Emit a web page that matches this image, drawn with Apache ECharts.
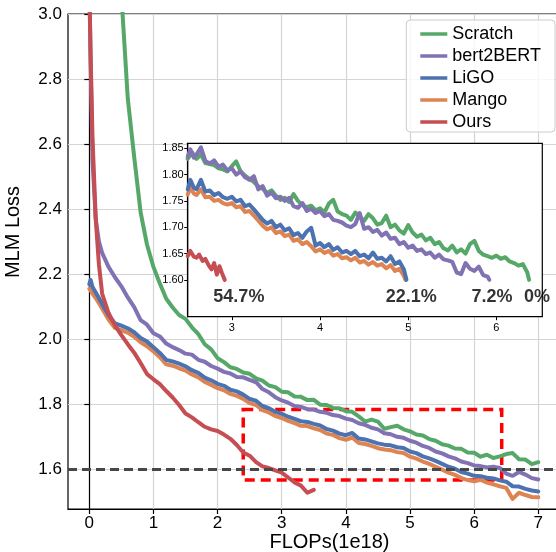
<!DOCTYPE html>
<html>
<head>
<meta charset="utf-8">
<script src="https://cdn.jsdelivr.net/npm/echarts@6.0.0/dist/echarts.min.js"></script>
<style>
  html, body { margin: 0; padding: 0; background: #ffffff; }
  #chart { width: 556px; height: 552px; }
</style>
</head>
<body>
<div id="chart"></div>
<script>
// ---- Main panel: MLM loss vs. training FLOPs (1e18) ----
const flops = [
  0, 0.02, 0.05, 0.1, 0.15, 0.2,
  0.3, 0.4, 0.5, 0.6, 0.7, 0.8, 0.9,
  1.0, 1.1, 1.2, 1.3, 1.4, 1.5, 1.6, 1.7, 1.8, 1.9,
  2.0, 2.1, 2.2, 2.3, 2.4, 2.5, 2.6, 2.7, 2.8, 2.9,
  3.0, 3.1, 3.2, 3.3, 3.4, 3.5, 3.6, 3.7, 3.8, 3.9,
  4.0, 4.1, 4.2, 4.3, 4.4, 4.5, 4.6, 4.7, 4.8, 4.9,
  5.0, 5.1, 5.2, 5.3, 5.4, 5.5, 5.6, 5.7, 5.8, 5.9,
  6.0, 6.1, 6.2, 6.3, 6.4, 6.5, 6.6, 6.7, 6.8, 6.9,
  7.0
];

const lossScratch = [
  null, null, null, null, null, null,
  null, null, 3.06, 2.74, 2.56, 2.39, 2.29,
  2.222, 2.171, 2.124, 2.097, 2.074, 2.062, 2.036, 2.015, 1.984, 1.968,
  1.941, 1.929, 1.913, 1.908, 1.897, 1.893, 1.879, 1.872, 1.857, 1.852,
  1.838, 1.836, 1.823, 1.822, 1.812, 1.813, 1.798, 1.797, 1.788, 1.787,
  1.778, 1.776, 1.762, 1.746, 1.752, 1.746, 1.724, 1.729, 1.733, 1.722,
  1.716, 1.706, 1.703, 1.692, 1.687, 1.676, 1.672, 1.663, 1.662, 1.651,
  1.650, 1.638, 1.644, 1.634, 1.639, 1.646, 1.649, 1.630, 1.629, 1.615,
  1.621
];

const lossBert2BERT = [
  3.10, 2.86, 2.55, 2.37, 2.30, 2.265,
  2.222, 2.190, 2.162, 2.128, 2.098, 2.058, 2.044,
  2.018, 2.008, 1.986, 1.975, 1.966, 1.955, 1.952, 1.936, 1.930, 1.917,
  1.909, 1.899, 1.894, 1.883, 1.882, 1.874, 1.867, 1.846, 1.836, 1.821,
  1.811, 1.804, 1.794, 1.791, 1.784, 1.783, 1.776, 1.773, 1.766, 1.763,
  1.755, 1.751, 1.741, 1.736, 1.727, 1.722, 1.710, 1.707, 1.699, 1.696,
  1.687, 1.681, 1.671, 1.665, 1.654, 1.648, 1.639, 1.633, 1.623, 1.618,
  1.611, 1.609, 1.605, 1.607, 1.603, 1.586, 1.579, 1.591, 1.583, 1.572,
  1.568
];

const lossLiGO = [
  2.168, 2.182, 2.160, 2.143, 2.126, 2.108,
  2.074, 2.048, 2.041, 2.033, 2.021, 2.003, 1.992,
  1.975, 1.957, 1.936, 1.931, 1.924, 1.916, 1.904, 1.896, 1.881, 1.873,
  1.862, 1.856, 1.844, 1.839, 1.829, 1.816, 1.810, 1.794, 1.787, 1.776,
  1.770, 1.761, 1.754, 1.747, 1.745, 1.739, 1.734, 1.723, 1.718, 1.709,
  1.704, 1.711, 1.694, 1.691, 1.685, 1.679, 1.675, 1.673, 1.667, 1.665,
  1.654, 1.649, 1.639, 1.633, 1.625, 1.616, 1.607, 1.601, 1.591, 1.586,
  1.579, 1.578, 1.573, 1.571, 1.565, 1.561, 1.547, 1.546, 1.539, 1.534,
  1.531
];

const lossMango = [
  2.155, 2.150, 2.140, 2.126, 2.110, 2.094,
  2.060, 2.034, 2.027, 2.020, 2.007, 1.990, 1.978,
  1.962, 1.944, 1.922, 1.918, 1.910, 1.903, 1.891, 1.882, 1.868, 1.859,
  1.849, 1.842, 1.831, 1.825, 1.816, 1.803, 1.797, 1.781, 1.774, 1.763,
  1.757, 1.748, 1.741, 1.733, 1.732, 1.725, 1.720, 1.709, 1.705, 1.695,
  1.690, 1.697, 1.680, 1.677, 1.671, 1.664, 1.660, 1.658, 1.652, 1.649,
  1.638, 1.632, 1.623, 1.616, 1.607, 1.598, 1.589, 1.582, 1.572, 1.566,
  1.562, 1.567, 1.558, 1.553, 1.547, 1.542, 1.508, 1.527, 1.520, 1.514,
  1.513
];

const lossOurs = [
  3.10, 2.88, 2.62, 2.37, 2.23, 2.14,
  2.080, 2.042, 2.012, 1.984, 1.958, 1.926, 1.892,
  1.876, 1.861, 1.840, 1.820, 1.797, 1.771, 1.759, 1.744, 1.730, 1.722,
  1.717, 1.706, 1.693, 1.674, 1.651, 1.641, 1.621, 1.608, 1.603, 1.596,
  1.589, 1.574, 1.559, 1.549, 1.527, 1.536, null, null, null, null,
  null, null, null, null, null, null, null, null, null, null,
  null, null, null, null, null, null, null, null, null, null,
  null, null, null, null, null, null, null, null, null, null,
  null
];

// ---- Inset: each run until it first reaches the target loss ----
const insetScratch = [
  [2.5,1.830],[2.55,1.842],[2.6,1.830],[2.65,1.838],[2.7,1.822],[2.75,1.820],[2.8,1.818],[2.85,1.812],
  [2.9,1.810],[2.95,1.806],[3.0,1.816],[3.05,1.825],[3.1,1.806],[3.15,1.798],[3.2,1.792],[3.25,1.786],
  [3.3,1.778],[3.35,1.773],[3.4,1.765],[3.45,1.770],[3.5,1.760],[3.55,1.752],[3.6,1.756],[3.65,1.748],
  [3.7,1.763],[3.75,1.750],[3.8,1.742],[3.85,1.738],[3.9,1.741],[3.95,1.732],[4.0,1.736],[4.05,1.728],
  [4.1,1.745],[4.15,1.752],[4.2,1.730],[4.25,1.725],[4.3,1.722],[4.35,1.714],[4.4,1.728],[4.45,1.720],
  [4.5,1.712],[4.55,1.725],[4.6,1.717],[4.65,1.705],[4.7,1.708],[4.75,1.722],[4.8,1.700],[4.85,1.705],
  [4.9,1.694],[4.95,1.688],[5.0,1.704],[5.05,1.690],[5.1,1.682],[5.15,1.686],[5.2,1.675],[5.25,1.680],
  [5.3,1.668],[5.35,1.672],[5.4,1.660],[5.45,1.656],[5.5,1.665],[5.55,1.652],[5.6,1.658],[5.65,1.650],
  [5.7,1.668],[5.75,1.674],[5.8,1.655],[5.85,1.648],[5.9,1.645],[5.95,1.642],[6.0,1.646],[6.05,1.640],
  [6.1,1.643],[6.15,1.635],[6.2,1.632],[6.25,1.627],[6.3,1.630],[6.35,1.614],[6.37,1.600]
];

const insetBert2BERT = [
  [2.5,1.834],[2.53,1.848],[2.57,1.832],[2.6,1.838],[2.65,1.852],[2.7,1.826],[2.75,1.821],[2.8,1.827],
  [2.85,1.815],[2.9,1.819],[2.95,1.808],[3.0,1.812],[3.05,1.800],[3.1,1.806],[3.15,1.795],[3.2,1.790],
  [3.25,1.797],[3.3,1.772],[3.35,1.778],[3.4,1.760],[3.45,1.766],[3.5,1.755],[3.55,1.758],[3.6,1.750],
  [3.65,1.756],[3.7,1.740],[3.75,1.737],[3.8,1.746],[3.85,1.731],[3.9,1.735],[3.95,1.727],[4.0,1.731],
  [4.05,1.721],[4.1,1.725],[4.15,1.714],[4.2,1.712],[4.25,1.709],[4.3,1.703],[4.35,1.700],[4.4,1.706],
  [4.45,1.727],[4.5,1.697],[4.55,1.700],[4.6,1.691],[4.65,1.695],[4.7,1.684],[4.75,1.690],[4.8,1.678],
  [4.85,1.680],[4.9,1.668],[4.95,1.672],[5.0,1.661],[5.05,1.665],[5.1,1.655],[5.15,1.658],[5.2,1.649],
  [5.25,1.652],[5.3,1.642],[5.35,1.648],[5.4,1.639],[5.45,1.637],[5.5,1.634],[5.55,1.614],[5.6,1.611],
  [5.65,1.632],[5.7,1.621],[5.75,1.617],[5.8,1.625],[5.85,1.609],[5.9,1.606],[5.92,1.600]
];

const insetLiGO = [
  [2.5,1.772],[2.53,1.790],[2.57,1.775],[2.6,1.772],[2.65,1.790],[2.7,1.768],[2.75,1.770],[2.8,1.761],
  [2.85,1.765],[2.9,1.757],[2.95,1.754],[3.0,1.758],[3.05,1.749],[3.1,1.752],[3.15,1.740],[3.2,1.743],
  [3.25,1.734],[3.3,1.724],[3.35,1.714],[3.4,1.707],[3.45,1.712],[3.5,1.700],[3.55,1.705],[3.6,1.694],
  [3.65,1.698],[3.7,1.685],[3.75,1.689],[3.8,1.680],[3.85,1.692],[3.9,1.699],[3.95,1.665],[4.0,1.670],
  [4.05,1.662],[4.1,1.668],[4.15,1.657],[4.2,1.662],[4.25,1.652],[4.3,1.655],[4.35,1.649],[4.4,1.655],
  [4.45,1.645],[4.5,1.648],[4.55,1.641],[4.6,1.652],[4.65,1.640],[4.7,1.642],[4.75,1.635],[4.8,1.645],
  [4.85,1.630],[4.9,1.635],[4.95,1.620],[4.98,1.600]
];

const insetMango = [
  [2.5,1.762],[2.53,1.775],[2.57,1.764],[2.6,1.761],[2.65,1.772],[2.7,1.757],[2.75,1.758],[2.8,1.750],
  [2.85,1.752],[2.9,1.746],[2.95,1.743],[3.0,1.746],[3.05,1.738],[3.1,1.740],[3.15,1.729],[3.2,1.731],
  [3.25,1.722],[3.3,1.713],[3.35,1.703],[3.4,1.696],[3.45,1.700],[3.5,1.689],[3.55,1.692],[3.6,1.683],
  [3.65,1.686],[3.7,1.674],[3.75,1.677],[3.8,1.668],[3.85,1.672],[3.9,1.664],[3.95,1.654],[4.0,1.658],
  [4.05,1.651],[4.1,1.655],[4.15,1.646],[4.2,1.649],[4.25,1.641],[4.3,1.643],[4.35,1.637],[4.4,1.642],
  [4.45,1.633],[4.5,1.636],[4.55,1.629],[4.6,1.634],[4.65,1.627],[4.7,1.630],[4.75,1.622],[4.8,1.628],
  [4.85,1.617],[4.9,1.621],[4.95,1.608],[4.97,1.600]
];

const insetOurs = [
  [2.5,1.645],[2.53,1.655],[2.57,1.644],[2.6,1.642],[2.63,1.648],[2.67,1.636],[2.7,1.640],
  [2.74,1.627],[2.77,1.620],[2.8,1.632],[2.83,1.610],[2.86,1.626],[2.89,1.612],[2.92,1.600]
];

// Speed-up annotations written under the target-loss line of the inset
const speedupText = ['54.7%', '22.1%', '7.2%', '0%'];
const speedupAt = [3.08, 5.035, 5.95, 6.46];
const speedupLoss = 1.567;

// Tick labels
const xTicks = [0, 1, 2, 3, 4, 5, 6, 7];
const yTicks = [1.6, 1.8, 2.0, 2.2, 2.4, 2.6, 2.8, 3.0];
const insetXTicks = [3, 4, 5, 6];
const insetYTicks = [1.60, 1.65, 1.70, 1.75, 1.80, 1.85];

const targetLoss = 1.6;
const zoomBoxFlops = [2.40, 6.43];
const zoomBoxLoss = [1.566, 1.783];

const seriesNames = ['Scratch', 'bert2BERT', 'LiGO', 'Mango', 'Ours'];
const colors = {
  'Scratch': '#55A868',
  'bert2BERT': '#8172B3',
  'LiGO': '#4C72B0',
  'Mango': '#DD8452',
  'Ours': '#C44E52'
};

const FONT = "'Liberation Sans', Arial, Helvetica, sans-serif";

const pair = ys => flops.map((x, i) => [x, ys[i]]).filter(p => p[1] !== null);

function lineSeries(name, data, gridIdx, extra) {
  return Object.assign({
    name: name,
    type: 'line',
    xAxisIndex: gridIdx,
    yAxisIndex: gridIdx,
    data: data,
    color: colors[name],
    showSymbol: false,
    symbol: 'none',
    clip: true,
    lineStyle: { color: colors[name], width: 4, join: 'round', cap: 'round' },
    z: gridIdx === 0 ? 2 : 12,
    silent: true,
    animation: false
  }, extra || {});
}

// draw order: green, purple, orange, blue, red
const mainSeries = [
  lineSeries('Scratch', pair(lossScratch), 0),
  lineSeries('bert2BERT', pair(lossBert2BERT), 0),
  lineSeries('Mango', pair(lossMango), 0),
  lineSeries('LiGO', pair(lossLiGO), 0),
  lineSeries('Ours', pair(lossOurs), 0, {
    markLine: {
      silent: true,
      symbol: ['none', 'none'],
      label: { show: false },
      lineStyle: { color: '#474747', width: 3, type: [9, 5], opacity: 1 },
      data: [{ yAxis: targetLoss }],
      animation: false
    },
    markArea: {
      silent: true,
      label: { show: false },
      itemStyle: {
        color: 'rgba(0,0,0,0)',
        borderColor: '#ff0000',
        borderWidth: 3.5,
        borderType: [10, 6]
      },
      data: [[
        { coord: [zoomBoxFlops[0], zoomBoxLoss[1]] },
        { coord: [zoomBoxFlops[1], zoomBoxLoss[0]] }
      ]],
      animation: false
    }
  })
];

const insetSeries = [
  lineSeries('Scratch', insetScratch, 1, {
    markLine: {
      silent: true,
      symbol: ['none', 'none'],
      label: { show: false },
      lineStyle: { color: '#333333', width: 1.3, type: [4, 3] },
      data: [{ yAxis: targetLoss }],
      animation: false
    }
  }),
  lineSeries('bert2BERT', insetBert2BERT, 1),
  lineSeries('Mango', insetMango, 1),
  lineSeries('LiGO', insetLiGO, 1),
  lineSeries('Ours', insetOurs, 1),
  {
    type: 'scatter',
    xAxisIndex: 1,
    yAxisIndex: 1,
    symbolSize: 0,
    silent: true,
    z: 13,
    data: speedupAt.map(x => [x, speedupLoss]),
    label: {
      show: true,
      position: 'inside',
      formatter: p => speedupText[p.dataIndex],
      fontFamily: FONT,
      fontSize: 18,
      fontWeight: 'bold',
      color: '#000'
    },
    animation: false
  }
];

const axisBlack = { show: true, lineStyle: { color: '#000', width: 1.2 } };

const option = {
  backgroundColor: '#ffffff',
  animation: false,
  textStyle: { fontFamily: FONT },
  grid: [
    { left: 68, top: 14, width: 523, height: 495, show: true, outerBoundsMode: 'none', containLabel: false,
      borderColor: '#000', borderWidth: 1.2, backgroundColor: 'transparent', z: 0 },
    { left: 187.7, top: 143.3, width: 354.6, height: 173.4, show: true, outerBoundsMode: 'none', containLabel: false,
      borderColor: '#000', borderWidth: 1.2, backgroundColor: '#ffffff', z: 10 }
  ],
  xAxis: [
    {
      type: 'value', gridIndex: 0, min: -0.332, max: 7.822,
      axisLine: axisBlack,
      axisTick: { show: true, customValues: xTicks, length: 5, lineStyle: { color: '#000', width: 1.2 } },
      axisLabel: { customValues: xTicks, fontSize: 17, color: '#000', margin: 6, fontFamily: FONT },
      splitLine: { show: true, lineStyle: { color: '#d4d4d4', width: 1.2 } },
      name: 'FLOPs(1e18)', nameLocation: 'middle', nameGap: 23, nameMoveOverlap: false,
      nameTextStyle: { fontSize: 20, color: '#000', fontFamily: FONT }
    },
    {
      type: 'value', gridIndex: 1, min: 2.5, max: 6.52, z: 11,
      axisLine: axisBlack,
      axisTick: { show: true, customValues: insetXTicks, length: 3.5, lineStyle: { color: '#000', width: 1 } },
      axisLabel: { customValues: insetXTicks, fontSize: 11, color: '#000', margin: 6, fontFamily: FONT },
      splitLine: { show: false }
    }
  ],
  yAxis: [
    {
      type: 'value', gridIndex: 0, min: 1.477, max: 3.0,
      axisLine: axisBlack,
      axisTick: { show: true, customValues: yTicks, length: 5, lineStyle: { color: '#000', width: 1.2 } },
      axisLabel: { customValues: yTicks, formatter: v => v.toFixed(1), fontSize: 17, color: '#000', margin: 6, fontFamily: FONT },
      splitLine: { show: true, lineStyle: { color: '#d4d4d4', width: 1.2 } }
    },
    {
      type: 'value', gridIndex: 1, min: 1.53, max: 1.8595, z: 11,
      axisLine: axisBlack,
      axisTick: { show: true, customValues: insetYTicks, length: 3.5, lineStyle: { color: '#000', width: 1 } },
      axisLabel: { customValues: insetYTicks, formatter: v => v.toFixed(2), fontSize: 11, color: '#000', margin: 4, fontFamily: FONT },
      splitLine: { show: false }
    }
  ],
  legend: {
    data: seriesNames,
    orient: 'vertical',
    right: 1, top: 20,
    icon: 'rect',
    itemWidth: 27, itemHeight: 3.5, itemGap: 4,
    padding: [5, 14, 1, 14],
    backgroundColor: 'rgba(255,255,255,0.8)',
    borderColor: '#cccccc', borderWidth: 1, borderRadius: 4,
    selectedMode: false,
    textStyle: { fontSize: 18, color: '#000', lineHeight: 18, fontFamily: FONT }
  },
  graphic: [
    {
      type: 'text',
      x: 13, y: 232,
      rotation: Math.PI / 2,
      style: {
        text: 'MLM Loss',
        font: "20px 'Liberation Sans', Arial, sans-serif",
        fill: '#000',
        align: 'center',
        verticalAlign: 'middle'
      }
    }
  ],
  series: mainSeries.concat(insetSeries)
};

const chart = echarts.init(document.getElementById('chart'), null, { renderer: 'canvas', width: 556, height: 552 });
chart.setOption(option);
</script>
</body>
</html>
